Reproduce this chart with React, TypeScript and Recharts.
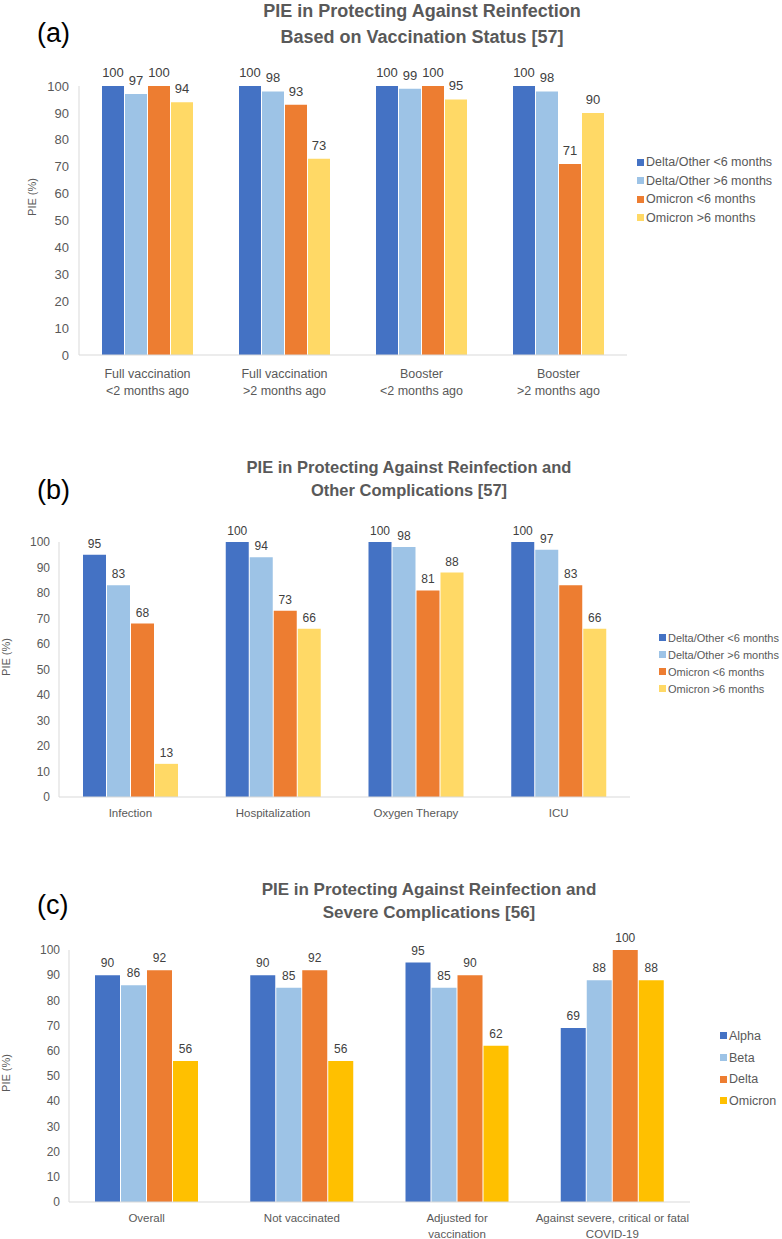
import { Bar, BarChart, LabelList, XAxis, YAxis } from "recharts";

const FONT = "'Liberation Sans', Arial, sans-serif";
const TEXT = "#595959";
const LABEL = "#404040";
const AXIS = "#d9d9d9";

// panel (a)
const CATS_A = [
  "Full vaccination\n<2 months ago",
  "Full vaccination\n>2 months ago",
  "Booster\n<2 months ago",
  "Booster\n>2 months ago",
];
const A_DELTA_LT6 = [100, 100, 100, 100];
const A_DELTA_GT6 = [97, 98, 99, 98];
const A_OMI_LT6 = [100, 93, 100, 71];
const A_OMI_GT6 = [94, 73, 95, 90];

// panel (b)
const CATS_B = ["Infection", "Hospitalization", "Oxygen Therapy", "ICU"];
const B_DELTA_LT6 = [95, 100, 100, 100];
const B_DELTA_GT6 = [83, 94, 98, 97];
const B_OMI_LT6 = [68, 73, 81, 83];
const B_OMI_GT6 = [13, 66, 88, 66];

// panel (c)
const CATS_C = [
  "Overall",
  "Not vaccinated",
  "Adjusted for\nvaccination",
  "Against severe, critical or fatal\nCOVID-19",
];
const C_ALPHA = [90, 90, 95, 69];
const C_BETA = [86, 85, 85, 88];
const C_DELTA = [92, 92, 90, 100];
const C_OMICRON = [56, 56, 62, 88];

const Y_TICKS = [0, 10, 20, 30, 40, 50, 60, 70, 80, 90, 100];

const NAMES_AB = [
  "Delta/Other <6 months",
  "Delta/Other >6 months",
  "Omicron <6 months",
  "Omicron >6 months",
];
const NAMES_C = ["Alpha", "Beta", "Delta", "Omicron"];
const COLORS_AB = ["#4472c4", "#9dc3e6", "#ed7d31", "#ffd966"];
const COLORS_C = ["#4472c4", "#9dc3e6", "#ed7d31", "#ffc000"];

type Row = { cat: string; s0: number; s1: number; s2: number; s3: number };

function toRows(cats: string[], series: number[][]): Row[] {
  return cats.map((cat, i) => ({
    cat,
    s0: series[0][i],
    s1: series[1][i],
    s2: series[2][i],
    s3: series[3][i],
  }));
}

const dataA = toRows(CATS_A, [A_DELTA_LT6, A_DELTA_GT6, A_OMI_LT6, A_OMI_GT6]);
const dataB = toRows(CATS_B, [B_DELTA_LT6, B_DELTA_GT6, B_OMI_LT6, B_OMI_GT6]);
const dataC = toRows(CATS_C, [C_ALPHA, C_BETA, C_DELTA, C_OMICRON]);

type PanelCfg = {
  tag: string;
  title: string[];
  titleX: number;
  titleTop: number;
  titleSize: number;
  titleLine: number;
  tagTop: number;
  top: number;
  height: number;
  marginTop: number;
  marginRight: number;
  yWidth: number;
  yMargin: number;
  xHeight: number;
  tickSize: number;
  catSize: number;
  catDy: number;
  catLine: number;
  barSize: number;
  labelOffset: number;
  pieX: number;
  pieY: number;
  legendX: number;
  legendY: number;
  legendRow: number;
  legendSize: number;
  names: string[];
  colors: string[];
  data: Row[];
};

function CatTick(props: any) {
  const { x, y, payload, fontSize, dy, lineH } = props;
  const lines = String(payload.value).split("\n");
  return (
    <text x={x} y={y + dy} textAnchor="middle" fill={TEXT} fontSize={fontSize} fontFamily={FONT}>
      {lines.map((l, i) => (
        <tspan key={i} x={x} dy={i === 0 ? 0 : lineH}>
          {l}
        </tspan>
      ))}
    </text>
  );
}

function Panel({ cfg }: { cfg: PanelCfg }) {
  return (
    <>
      <div
        style={{
          position: "absolute",
          left: 37,
          top: cfg.tagTop,
          fontFamily: FONT,
          fontSize: 27,
          lineHeight: "30px",
          color: "#000",
        }}
      >
        {cfg.tag}
      </div>
      <div
        style={{
          position: "absolute",
          left: cfg.titleX - 300,
          width: 600,
          top: cfg.titleTop,
          textAlign: "center",
          fontFamily: FONT,
          fontWeight: "bold",
          fontSize: cfg.titleSize,
          lineHeight: `${cfg.titleLine}px`,
          color: TEXT,
        }}
      >
        {cfg.title.map((t) => (
          <div key={t}>{t}</div>
        ))}
      </div>
      <div style={{ position: "absolute", left: 0, top: cfg.top }}>
        <BarChart
          width={782}
          height={cfg.height}
          data={cfg.data}
          margin={{ top: cfg.marginTop, right: cfg.marginRight, left: 0, bottom: 0 }}
          barGap={1}
          barSize={cfg.barSize}
        >
          <XAxis
            dataKey="cat"
            height={cfg.xHeight}
            axisLine={{ stroke: AXIS }}
            tickLine={false}
            interval={0}
            tick={<CatTick fontSize={cfg.catSize} dy={cfg.catDy} lineH={cfg.catLine} />}
          />
          <YAxis
            type="number"
            domain={[0, 100]}
            ticks={Y_TICKS}
            width={cfg.yWidth}
            axisLine={{ stroke: AXIS }}
            tickLine={false}
            tickMargin={cfg.yMargin}
            tick={{ fill: TEXT, fontSize: cfg.tickSize, fontFamily: FONT }}
          />
          {["s0", "s1", "s2", "s3"].map((k, i) => (
            <Bar key={k} dataKey={k} name={cfg.names[i]} fill={cfg.colors[i]} isAnimationActive={false}>
              <LabelList
                dataKey={k}
                position="top"
                offset={cfg.labelOffset}
                fill={LABEL}
                fontSize={cfg.tickSize}
                fontFamily={FONT}
              />
            </Bar>
          ))}
        </BarChart>
        <div
          style={{
            position: "absolute",
            left: cfg.pieX - 30,
            top: cfg.pieY - 8,
            width: 60,
            height: 16,
            lineHeight: "16px",
            textAlign: "center",
            transform: "rotate(-90deg)",
            fontFamily: FONT,
            fontSize: 11,
            color: TEXT,
          }}
        >
          PIE (%)
        </div>
        <div
          style={{
            position: "absolute",
            left: cfg.legendX,
            top: cfg.legendY,
            fontFamily: FONT,
            fontSize: cfg.legendSize,
            color: TEXT,
          }}
        >
          {cfg.names.map((n, i) => (
            <div
              key={n}
              style={{ display: "flex", alignItems: "center", height: cfg.legendRow, whiteSpace: "nowrap" }}
            >
              <span
                style={{ width: 7, height: 7, background: cfg.colors[i], marginRight: 2, flex: "none" }}
              />
              {n}
            </div>
          ))}
        </div>
      </div>
    </>
  );
}

const PANELS: PanelCfg[] = [
  {
    tag: "(a)",
    title: ["PIE in Protecting Against Reinfection", "Based on Vaccination Status [57]"],
    titleX: 422,
    titleTop: -2,
    titleSize: 18,
    titleLine: 26,
    tagTop: 18,
    top: 0,
    height: 405,
    marginTop: 86,
    marginRight: 155,
    yWidth: 79,
    yMargin: 4,
    xHeight: 50,
    tickSize: 13,
    catSize: 12.5,
    catDy: 15,
    catLine: 17,
    barSize: 22,
    labelOffset: 9,
    pieX: 32,
    pieY: 197,
    legendX: 637,
    legendY: 153,
    legendRow: 18.5,
    legendSize: 12.5,
    names: NAMES_AB,
    colors: COLORS_AB,
    data: dataA,
  },
  {
    tag: "(b)",
    title: ["PIE in Protecting Against Reinfection and", "Other Complications [57]"],
    titleX: 409,
    titleTop: 479 - 12 - 11,
    titleSize: 16.5,
    titleLine: 23,
    tagTop: 475,
    top: 440,
    height: 387,
    marginTop: 102,
    marginRight: 152,
    yWidth: 59,
    yMargin: 3,
    xHeight: 30,
    tickSize: 12,
    catSize: 11.5,
    catDy: 12,
    catLine: 16,
    barSize: 23,
    labelOffset: 7,
    pieX: 6,
    pieY: 657 - 440,
    legendX: 659,
    legendY: 637 - 440 - 8,
    legendRow: 17,
    legendSize: 11,
    names: NAMES_AB,
    colors: COLORS_AB,
    data: dataB,
  },
  {
    tag: "(c)",
    title: ["PIE in Protecting Against Reinfection and", "Severe Complications [56]"],
    titleX: 429,
    titleTop: 901 - 12 - 11,
    titleSize: 17,
    titleLine: 23,
    tagTop: 890,
    top: 860,
    height: 379,
    marginTop: 90,
    marginRight: 92,
    yWidth: 69,
    yMargin: 3,
    xHeight: 37,
    tickSize: 12,
    catSize: 11.5,
    catDy: 12,
    catLine: 16,
    barSize: 25,
    labelOffset: 8,
    pieX: 6,
    pieY: 1073 - 860,
    legendX: 720,
    legendY: 1036 - 860 - 11,
    legendRow: 21.7,
    legendSize: 12.5,
    names: NAMES_C,
    colors: COLORS_C,
    data: dataC,
  },
];

export default function App() {
  return (
    <div
      style={{
        position: "absolute",
        left: 0,
        top: 0,
        width: 782,
        height: 1239,
        background: "#fff",
        overflow: "hidden",
      }}
    >
      {PANELS.map((p) => (
        <Panel key={p.tag} cfg={p} />
      ))}
    </div>
  );
}
